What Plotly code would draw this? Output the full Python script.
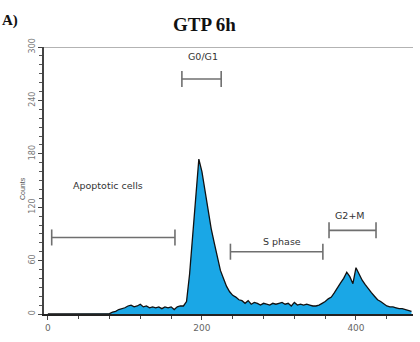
import plotly.graph_objects as go

# ---- data ----
channels = list(range(0, 476, 4))
counts = [0, 0, 0, 0, 0, 0, 0, 0, 0, 0, 0, 0, 0, 0, 0, 0, 0, 0, 0, 0, 0.5,
          2, 3, 5, 6, 7, 9, 10, 8, 9, 11, 8, 9, 7, 8, 7, 8, 6, 8, 7, 8, 5, 8, 9, 9,
          14, 45, 90, 135, 174, 160, 138, 116, 96, 80, 63, 49, 40, 31, 25, 21, 19,
          16, 15, 12, 15, 11, 13, 12, 10, 12, 11, 10, 12, 11, 12, 13, 11, 12, 9,
          13, 10, 11, 10, 11, 10, 9, 9, 10, 12, 14, 17, 19, 24, 30, 35, 40, 47, 42,
          34, 52, 44, 38, 33, 28, 24, 20, 16, 14, 11, 9, 8, 8, 7, 6, 6, 5, 4, 3]

gate_names = ["Apoptotic cells", "G0/G1", "S phase", "G2+M"]
gate_start = [5, 174, 237, 365]
gate_end = [165, 225, 357, 426]
gate_level = [86, 264, 70, 94]
label_x = [78, 201, 304, 392]
label_y = [144, 289, 81, 111]

title = "GTP 6h"
panel_label = "A)"
y_title = "Counts"
cap = 9

fig = go.Figure()
fig.add_trace(go.Scatter(
    x=channels, y=counts, mode="lines", fill="tozeroy",
    fillcolor="#1aa7e6", line=dict(color="#111111", width=1.3),
    hoverinfo="skip", showlegend=False))

for s, e, lv in zip(gate_start, gate_end, gate_level):
    fig.add_trace(go.Scatter(
        x=[s, s, None, s, e, None, e, e],
        y=[lv - cap, lv + cap, None, lv, lv, None, lv - cap, lv + cap],
        mode="lines", line=dict(color="#6f6f6f", width=1.6),
        hoverinfo="skip", showlegend=False))

for name, lx, ly in zip(gate_names, label_x, label_y):
    fig.add_annotation(x=lx, y=ly, text=name, showarrow=False,
                       font=dict(family="DejaVu Sans", size=9.5, color="#333333"))

fig.add_annotation(xref="paper", yref="paper", x=0.435, y=1.0, yshift=35,
                   text="<b>" + title + "</b>", showarrow=False,
                   font=dict(family="Liberation Serif", size=19, color="#111111"))
fig.add_annotation(xref="paper", yref="paper", x=-0.119, y=1.0, yshift=37,
                   xanchor="left", text="<b>" + panel_label + "</b>", showarrow=False,
                   font=dict(family="Liberation Serif", size=15, color="#111111"))
fig.add_annotation(xref="paper", yref="paper", x=0, xshift=-27, y=0.47,
                   text=y_title, textangle=-90, showarrow=False,
                   font=dict(family="Arial", size=7, color="#555555"))

fig.add_shape(type="line", xref="paper", yref="y", x0=0, x1=1, y0=300, y1=300,
              line=dict(color="#9a9a9a", width=1.6))

fig.update_xaxes(range=[-5, 474], showline=True, linecolor="#222222", linewidth=1.5,
                 ticks="outside", tickvals=[0, 200, 400], ticklen=4, tickcolor="#444444",
                 minor=dict(dtick=40, tick0=0, ticks="outside", ticklen=3, tickcolor="#444444"),
                 tickfont=dict(family="DejaVu Sans", size=9, color="#666666"),
                 showgrid=False, zeroline=False)
fig.update_yaxes(range=[0, 300], showline=True, linecolor="#444444", linewidth=1.5,
                 ticks="outside", dtick=60, ticklen=4, tickcolor="#444444", tickangle=-90,
                 minor=dict(dtick=10, ticks="outside", ticklen=3, tickcolor="#555555"),
                 tickfont=dict(family="DejaVu Sans", size=8, color="#777777"),
                 showgrid=False, zeroline=False)

fig.update_layout(width=420, height=342, margin=dict(l=44, r=7, t=47, b=28),
                  paper_bgcolor="white", plot_bgcolor="white")

fig.write_html("out.html")
